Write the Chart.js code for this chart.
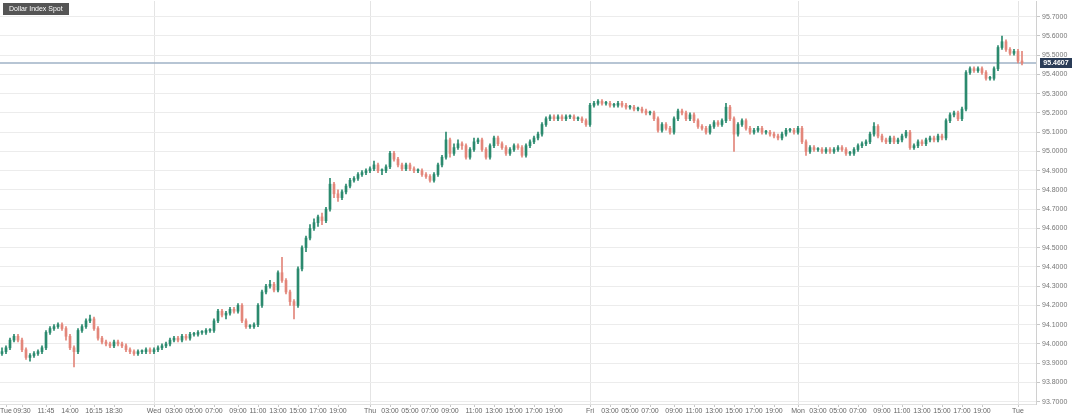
<!DOCTYPE html>
<html>
<head>
<meta charset="utf-8">
<script src="https://cdn.jsdelivr.net/npm/chart.js@4.4.0/dist/chart.umd.min.js"></script>
<style>
  html, body { margin: 0; padding: 0; background: #fff; }
  #wrap { width: 1080px; height: 418px; position: relative; }
</style>
</head>
<body>
<div id="wrap"><canvas id="chart"></canvas></div>
<script>
// OHLC candles
const opens = [
  93.95,93.96,93.98,94.02,94.04,94.02,93.97,93.93,93.94,93.95,93.96,93.98,94.06,94.08,94.09,94.10,
  94.08,94.04,93.98,93.96,94.07,94.09,94.12,94.13,94.08,94.03,94.01,94.00,93.99,94.01,94.00,93.99,
  93.97,93.96,93.95,93.96,93.96,93.97,93.96,93.97,93.98,93.99,94.00,94.02,94.03,94.02,94.04,94.03,
  94.05,94.05,94.06,94.06,94.07,94.07,94.12,94.17,94.15,94.16,94.18,94.17,94.20,94.12,94.09,94.09,
  94.10,94.20,94.27,94.30,94.31,94.28,94.37,94.33,94.27,94.22,94.20,94.39,94.50,94.55,94.60,94.63,
  94.66,94.64,94.70,94.83,94.78,94.76,94.79,94.82,94.85,94.86,94.88,94.89,94.90,94.91,94.93,94.90,
  94.90,94.92,94.99,94.96,94.93,94.91,94.93,94.91,94.90,94.90,94.88,94.87,94.85,94.88,94.93,94.97,
  95.06,94.99,95.02,95.04,95.03,94.97,95.01,95.05,95.06,95.01,94.97,95.03,95.07,95.04,95.02,94.99,
  95.01,95.03,95.02,94.98,95.03,95.05,95.07,95.09,95.14,95.17,95.18,95.17,95.18,95.17,95.18,95.18,
  95.17,95.17,95.16,95.14,95.24,95.25,95.26,95.25,95.25,95.24,95.24,95.25,95.24,95.23,95.23,95.22,
  95.22,95.21,95.20,95.20,95.17,95.11,95.14,95.12,95.10,95.17,95.21,95.20,95.17,95.19,95.16,95.13,
  95.12,95.10,95.13,95.15,95.14,95.16,95.23,95.17,95.09,95.14,95.16,95.12,95.10,95.11,95.12,95.10,
  95.10,95.09,95.08,95.07,95.09,95.11,95.11,95.10,95.12,95.05,95.00,95.02,95.01,95.01,95.00,95.01,
  95.00,95.01,95.02,95.01,94.99,94.99,95.01,95.03,95.04,95.05,95.09,95.13,95.08,95.06,95.05,95.07,
  95.05,95.06,95.08,95.10,95.02,95.03,95.05,95.04,95.06,95.07,95.06,95.08,95.07,95.16,95.19,95.20,
  95.17,95.22,95.41,95.43,95.42,95.43,95.41,95.38,95.38,95.43,95.54,95.57,95.53,95.51,95.52,95.47
]
const highs = [
  93.98,93.99,94.03,94.05,94.05,94.03,93.98,93.95,93.96,93.97,93.99,94.07,94.09,94.10,94.11,94.11,
  94.09,94.05,93.99,94.08,94.10,94.13,94.15,94.14,94.09,94.04,94.02,94.01,94.02,94.02,94.01,94.00,
  93.98,93.97,93.97,93.97,93.98,93.98,93.98,93.99,94.00,94.01,94.03,94.04,94.04,94.05,94.05,94.06,
  94.06,94.07,94.07,94.08,94.08,94.13,94.18,94.18,94.17,94.19,94.19,94.21,94.21,94.13,94.10,94.11,
  94.21,94.28,94.31,94.33,94.32,94.38,94.45,94.34,94.28,94.23,94.40,94.51,94.56,94.62,94.65,94.67,
  94.68,94.71,94.86,94.84,94.80,94.80,94.83,94.86,94.87,94.89,94.90,94.91,94.92,94.95,94.94,94.91,
  94.93,95.00,95.00,94.97,94.94,94.94,94.94,94.92,94.91,94.91,94.89,94.88,94.89,94.94,94.98,95.10,
  95.07,95.04,95.06,95.05,95.04,95.02,95.07,95.07,95.07,95.02,95.04,95.08,95.08,95.05,95.03,95.02,
  95.04,95.04,95.03,95.04,95.06,95.08,95.10,95.15,95.18,95.19,95.19,95.19,95.19,95.19,95.19,95.19,
  95.18,95.18,95.17,95.25,95.26,95.27,95.27,95.26,95.26,95.25,95.26,95.26,95.25,95.24,95.24,95.23,
  95.23,95.22,95.21,95.21,95.18,95.15,95.15,95.13,95.18,95.22,95.22,95.21,95.20,95.20,95.17,95.14,
  95.13,95.14,95.16,95.16,95.17,95.25,95.24,95.18,95.15,95.17,95.17,95.13,95.12,95.13,95.13,95.11,
  95.11,95.10,95.09,95.10,95.12,95.12,95.12,95.13,95.13,95.06,95.03,95.03,95.02,95.02,95.02,95.02,
  95.02,95.03,95.03,95.02,95.00,95.02,95.04,95.05,95.06,95.10,95.15,95.14,95.09,95.07,95.08,95.08,
  95.07,95.09,95.11,95.11,95.04,95.06,95.06,95.07,95.08,95.08,95.09,95.09,95.17,95.20,95.21,95.21,
  95.23,95.42,95.44,95.44,95.44,95.44,95.42,95.39,95.44,95.55,95.60,95.58,95.54,95.53,95.53,95.52
]
const lows = [
  93.94,93.95,93.97,94.01,94.01,93.96,93.92,93.91,93.93,93.94,93.95,93.97,94.05,94.07,94.08,94.07,
  94.02,93.97,93.88,93.95,94.06,94.08,94.11,94.07,94.02,94.00,93.99,93.98,93.98,93.99,93.98,93.96,
  93.95,93.94,93.94,93.95,93.95,93.95,93.95,93.96,93.97,93.98,93.99,94.01,94.01,94.01,94.02,94.02,
  94.04,94.04,94.05,94.05,94.06,94.06,94.11,94.14,94.13,94.15,94.16,94.16,94.11,94.08,94.08,94.08,
  94.09,94.19,94.26,94.29,94.27,94.27,94.32,94.26,94.20,94.13,94.19,94.38,94.48,94.54,94.59,94.61,
  94.62,94.63,94.69,94.76,94.74,94.75,94.78,94.81,94.84,94.85,94.87,94.88,94.89,94.90,94.89,94.88,
  94.89,94.91,94.95,94.92,94.90,94.90,94.90,94.89,94.89,94.87,94.86,94.84,94.84,94.87,94.92,94.96,
  94.97,94.98,95.01,95.01,94.96,94.96,95.00,95.04,95.00,94.96,94.96,95.02,95.03,95.01,94.98,94.98,
  95.00,95.01,94.97,94.97,95.02,95.04,95.06,95.08,95.13,95.16,95.16,95.16,95.16,95.16,95.17,95.16,
  95.16,95.15,95.13,95.13,95.23,95.24,95.24,95.24,95.23,95.23,95.23,95.23,95.22,95.22,95.21,95.21,
  95.20,95.19,95.19,95.16,95.10,95.10,95.11,95.09,95.09,95.16,95.19,95.16,95.16,95.15,95.12,95.11,
  95.09,95.09,95.12,95.13,95.13,95.15,95.16,95.00,95.08,95.13,95.11,95.09,95.09,95.10,95.09,95.09,
  95.08,95.07,95.06,95.06,95.08,95.10,95.09,95.09,95.04,94.98,94.99,95.00,95.00,94.99,94.99,94.99,
  94.99,95.00,95.00,94.98,94.98,94.98,95.00,95.02,95.03,95.04,95.08,95.07,95.05,95.04,95.04,95.04,
  95.04,95.05,95.07,95.01,95.01,95.02,95.03,95.03,95.05,95.05,95.05,95.06,95.06,95.15,95.18,95.16,
  95.16,95.21,95.40,95.41,95.41,95.40,95.37,95.37,95.37,95.42,95.53,95.52,95.50,95.50,95.46,95.45
]
const closes = [
  93.96,93.98,94.02,94.04,94.02,93.97,93.93,93.94,93.95,93.96,93.98,94.06,94.08,94.09,94.10,94.08,
  94.04,93.98,93.96,94.07,94.09,94.12,94.13,94.08,94.03,94.01,94.00,93.99,94.01,94.00,93.99,93.97,
  93.96,93.95,93.96,93.96,93.97,93.96,93.97,93.98,93.99,94.00,94.02,94.03,94.02,94.04,94.03,94.05,
  94.05,94.06,94.06,94.07,94.07,94.12,94.17,94.15,94.16,94.18,94.17,94.20,94.12,94.09,94.09,94.10,
  94.20,94.27,94.30,94.31,94.28,94.37,94.33,94.27,94.22,94.20,94.39,94.50,94.55,94.60,94.63,94.66,
  94.64,94.70,94.83,94.78,94.76,94.79,94.82,94.85,94.86,94.88,94.89,94.90,94.91,94.93,94.90,94.90,
  94.92,94.99,94.96,94.93,94.91,94.93,94.91,94.90,94.90,94.88,94.87,94.85,94.88,94.93,94.97,95.06,
  94.99,95.02,95.04,95.03,94.97,95.01,95.05,95.06,95.01,94.97,95.03,95.07,95.04,95.02,94.99,95.01,
  95.03,95.02,94.98,95.03,95.05,95.07,95.09,95.14,95.17,95.18,95.17,95.18,95.17,95.18,95.18,95.17,
  95.17,95.16,95.14,95.24,95.25,95.26,95.25,95.25,95.24,95.24,95.25,95.24,95.23,95.23,95.22,95.22,
  95.21,95.20,95.20,95.17,95.11,95.14,95.12,95.10,95.17,95.21,95.20,95.17,95.19,95.16,95.13,95.12,
  95.10,95.13,95.15,95.14,95.16,95.23,95.17,95.09,95.14,95.16,95.12,95.10,95.11,95.12,95.10,95.10,
  95.09,95.08,95.07,95.09,95.11,95.11,95.10,95.12,95.05,95.00,95.02,95.01,95.01,95.00,95.01,95.00,
  95.01,95.02,95.01,94.99,94.99,95.01,95.03,95.04,95.05,95.09,95.13,95.08,95.06,95.05,95.07,95.05,
  95.06,95.08,95.10,95.02,95.03,95.05,95.04,95.06,95.07,95.06,95.08,95.07,95.16,95.19,95.20,95.17,
  95.22,95.41,95.43,95.42,95.43,95.41,95.38,95.38,95.43,95.54,95.57,95.53,95.51,95.52,95.47,95.4607
]
const lastPrice = 95.4607
const title = "Dollar Index Spot"

const yTicks = [93.7, 93.8, 93.9, 94.0, 94.1, 94.2, 94.3, 94.4, 94.5, 94.6, 94.7,
  94.8, 94.9, 95.0, 95.1, 95.2, 95.3, 95.4, 95.5, 95.6, 95.7]

// candle index where each time label sits
const tickIdx = [1, 5, 11, 17, 23, 28,
  38, 43, 48, 53, 59, 64, 69, 74, 79, 84,
  92, 97, 102, 107, 112, 118, 123, 128, 133, 138,
  147, 152, 157, 162, 168, 173, 178, 183, 188, 193,
  199, 204, 209, 214, 220, 225, 230, 235, 240, 245,
  254]
const tickText = ["Tue", "09:30", "11:45", "14:00", "16:15", "18:30",
  "Wed", "03:00", "05:00", "07:00", "09:00", "11:00", "13:00", "15:00", "17:00", "19:00",
  "Thu", "03:00", "05:00", "07:00", "09:00", "11:00", "13:00", "15:00", "17:00", "19:00",
  "Fri", "03:00", "05:00", "07:00", "09:00", "11:00", "13:00", "15:00", "17:00", "19:00",
  "Mon", "03:00", "05:00", "07:00", "09:00", "11:00", "13:00", "15:00", "17:00", "19:00",
  "Tue"]
const dayNames = ["Tue", "Wed", "Thu", "Fri", "Mon"]
const slotCount = 259

const upColor = "#2b8a6e"
const downColor = "#e3867a"
const fontFamily = "'Liberation Sans', Arial, sans-serif"

const labels = Array.from({ length: slotCount }, (_, i) => {
  const k = tickIdx.indexOf(i)
  return k >= 0 ? tickText[k] : ""
})
const dayLines = tickIdx.filter((idx, k) => k > 0 && dayNames.includes(tickText[k]))
const candleColors = closes.map((c, i) => (c >= opens[i] ? upColor : downColor))

const overlay = {
  id: "overlay",
  beforeDraw(chart) {
    const { ctx } = chart
    ctx.save()
    ctx.fillStyle = "#ffffff"
    ctx.fillRect(0, 0, chart.width, chart.height)
    ctx.restore()
  },
  beforeDatasetsDraw(chart) {
    const { ctx, chartArea } = chart
    const y = Math.round(chart.scales.y.getPixelForValue(lastPrice))
    ctx.save()
    ctx.strokeStyle = "#9fb2c6"
    ctx.lineWidth = 1.5
    ctx.beginPath()
    ctx.moveTo(chartArea.left, y)
    ctx.lineTo(chartArea.right, y)
    ctx.stroke()
    ctx.restore()
  },
  afterDraw(chart) {
    const { ctx, chartArea } = chart
    const y = Math.round(chart.scales.y.getPixelForValue(lastPrice))
    ctx.save()
    // last price tag
    ctx.fillStyle = "#2a3c57"
    ctx.fillRect(chartArea.right + 4, y - 5, 32, 10)
    ctx.fillStyle = "#ffffff"
    ctx.font = "bold 7px " + fontFamily
    ctx.textAlign = "center"
    ctx.textBaseline = "middle"
    ctx.fillText(lastPrice.toFixed(4), chartArea.right + 20, y + 0.5)
    // instrument title
    ctx.fillStyle = "#555555"
    ctx.fillRect(3, 3, 66, 12)
    ctx.fillStyle = "#ffffff"
    ctx.textAlign = "left"
    ctx.font = "7px " + fontFamily
    ctx.fillText(title, 9, 9.5)
    ctx.restore()
  },
}

new Chart(document.getElementById("chart"), {
  type: "bar",
  data: {
    labels: labels,
    datasets: [
      {
        label: "wick",
        data: lows.map((l, i) => [l, highs[i]]),
        backgroundColor: candleColors,
        barThickness: 1,
        grouped: false,
        order: 2,
      },
      {
        label: "body",
        data: opens.map((o, i) => [o, closes[i]]),
        backgroundColor: candleColors,
        barThickness: 2,
        minBarLength: 1,
        grouped: false,
        order: 1,
      },
    ],
  },
  options: {
    responsive: true,
    maintainAspectRatio: false,
    animation: false,
    layout: { padding: { top: 1, left: 0, right: 0, bottom: 0 } },
    plugins: { legend: { display: false }, tooltip: { enabled: false } },
    scales: {
      x: {
        offset: true,
        afterFit: (axis) => { axis.height = 14; axis.paddingLeft = 0; axis.paddingRight = 0 },
        grid: {
          offset: false,
          color: (ctx) => (dayLines.includes(ctx.index) ? "#e4e4e4" : "rgba(0,0,0,0)"),
          tickColor: (ctx) => (labels[ctx.index] ? "#c8c8c8" : "rgba(0,0,0,0)"),
          tickLength: 3,
        },
        border: { color: "#e0e0e0" },
        ticks: {
          autoSkip: false,
          maxRotation: 0,
          minRotation: 0,
          padding: 0,
          color: "#666666",
          font: { family: fontFamily, size: 7 },
        },
      },
      y: {
        position: "right",
        min: 93.688,
        max: 95.7816,
        afterBuildTicks: (axis) => { axis.ticks = yTicks.map((v) => ({ value: v })) },
        afterFit: (axis) => { axis.width = 44; axis.paddingTop = 0; axis.paddingBottom = 0 },
        grid: { color: "#ececec", tickLength: 4, tickColor: "#c8c8c8" },
        border: { color: "#d0d0d0" },
        ticks: {
          padding: 2,
          color: "#777777",
          font: { family: fontFamily, size: 7 },
          callback: (v) => Number(v).toFixed(4),
        },
      },
    },
  },
  plugins: [overlay],
})
</script>
</body>
</html>
